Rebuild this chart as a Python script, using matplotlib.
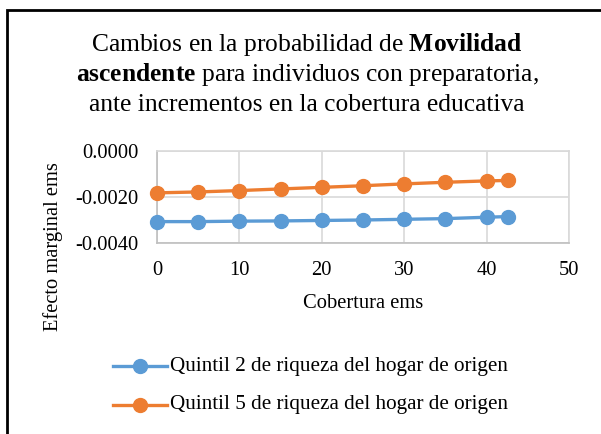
import matplotlib
matplotlib.use("Agg")
import matplotlib.pyplot as plt
from matplotlib.patches import Rectangle
from matplotlib.lines import Line2D

plt.rcParams["font.family"] = ["Liberation Serif", "DejaVu Serif"]
plt.rcParams["mathtext.fontset"] = "custom"
plt.rcParams["mathtext.rm"] = "Liberation Serif"
plt.rcParams["mathtext.bf"] = "Liberation Serif:bold"

cobertura = [0, 5, 10, 15, 20, 25, 30, 35, 40, 42.6]
quintil_2 = [-0.00307, -0.00307, -0.00305, -0.00304, -0.00302,
             -0.00300, -0.00297, -0.00294, -0.00288, -0.00285]
quintil_5 = [-0.00182, -0.00178, -0.00172, -0.00165, -0.00158,
             -0.00151, -0.00143, -0.00136, -0.00130, -0.00128]
series_labels = ["Quintil 2 de riqueza del hogar de origen",
                 "Quintil 5 de riqueza del hogar de origen"]
colors = ["#5B9BD5", "#ED7D31"]

W, H = 601, 434
fig = plt.figure(figsize=(W / 100, H / 100), dpi=100)

# outer chart border (right and bottom edges fall outside the picture)
fig.patches.append(Rectangle((7 / W, -0.05), 1.1, 1.05 - 9.5 / H,
                             transform=fig.transFigure, fill=False,
                             edgecolor="black", linewidth=2))

ax = fig.add_axes([157 / W, 1 - 243 / H, (569 - 157) / W, (243 - 151) / H])
for vals, col in zip([quintil_2, quintil_5], colors):
    ax.plot(cobertura, vals, color=col, linewidth=2.4, marker="o",
            markersize=10, clip_on=False, zorder=3)

ax.set_xlim(0, 50)
ax.set_ylim(-0.004, 0)
ax.set_xticks(range(0, 51, 10))
ax.set_yticks([0, -0.002, -0.004])
ax.set_yticklabels(["0.0000", "-0.0020", "-0.0040"])
ax.grid(True, color="#D9D9D9", linewidth=1.2)
ax.set_axisbelow(True)
for s in ax.spines.values():
    s.set_color("#D9D9D9")
    s.set_linewidth(1.2)
ax.spines["left"].set_color("#BFBFBF")
ax.spines["bottom"].set_color("#BFBFBF")
ax.tick_params(length=0, labelsize=14.8, pad=13)

fig.text(363 / W, 1 - 303 / H, "Cobertura ems", ha="center", va="center", fontsize=14.8)
fig.text(53 / W, 1 - 247 / H, "Efecto marginal ems", ha="center", va="center",
         rotation=90, fontsize=14.8)

title_lines = [r"Cambios en la probabilidad de $\mathbf{Movilidad}$",
               r"$\mathbf{ascendente}$ para individuos con preparatoria,",
               "ante incrementos en la cobertura educativa"]
for i, line in enumerate(title_lines):
    fig.text(307 / W, 1 - (45 + 30 * i) / H, line, ha="center", va="center",
             fontsize=18.4)

for i, (lab, col) in enumerate(zip(series_labels, colors)):
    y = 1 - (366 + 39 * i) / H
    fig.add_artist(Line2D([113 / W, 167 / W], [y, y], transform=fig.transFigure,
                          color=col, linewidth=2.4))
    fig.add_artist(Line2D([140 / W], [y], transform=fig.transFigure, color=col,
                          marker="o", markersize=10))
    fig.text(170 / W, y, lab, ha="left", va="center", fontsize=15.2)

fig.savefig("out.png", dpi=100)
